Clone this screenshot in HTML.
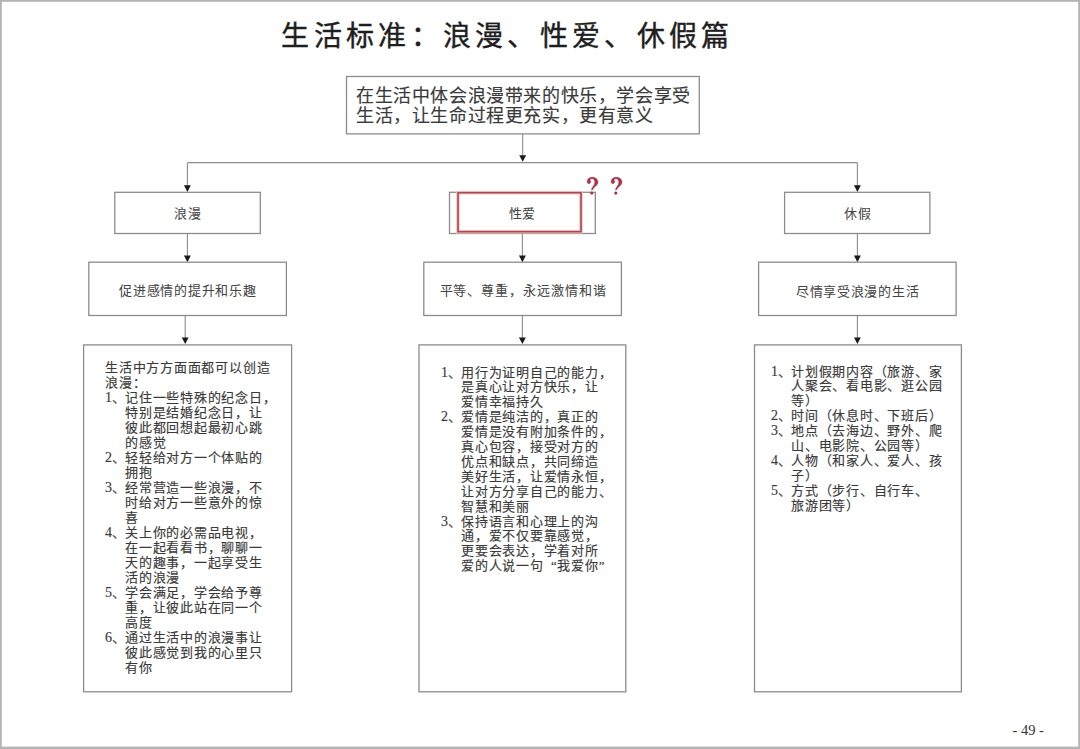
<!DOCTYPE html>
<html lang="zh-CN"><head><meta charset="utf-8">
<style>
html,body{margin:0;padding:0;background:#fff;}
body{width:1080px;height:749px;position:relative;overflow:hidden;font-family:"Liberation Serif",serif;color:#3a3a3a;}
.t{position:absolute;white-space:nowrap;line-height:1;}
.s{font-size:13px;letter-spacing:0.78px;-webkit-text-stroke:0.15px #3a3a3a;}
.qo{display:inline-block;width:13.78px;text-align:right;}
.qc{display:inline-block;width:13.78px;text-align:left;}
.n{font-size:14px;letter-spacing:0;}
.m{font-size:13px;color:#444;-webkit-text-stroke:0.05px #444;}
</style></head><body>
<svg width="1080" height="749" style="position:absolute;left:0;top:0"><rect x="0" y="0" width="1080" height="1.8" fill="#b4b4b4"/><rect x="0" y="0" width="1.8" height="749" fill="#b4b4b4"/><rect x="1078.2" y="0" width="1.8" height="749" fill="#b4b4b4"/><rect x="0" y="746.6" width="1080" height="2.4" fill="#b4b4b4"/><rect x="346.5" y="76.5" width="352.80" height="57.40" fill="none" stroke="#8c8c8c" stroke-width="1.3"/><line x1="522.7" y1="133.9" x2="522.7" y2="156" stroke="#8c8c8c" stroke-width="1.1"/><path d="M519.25,155.20 L526.15,155.20 L522.70,161.80 Z" fill="#1a1a1a"/><line x1="187.4" y1="162.7" x2="857.4" y2="162.7" stroke="#8c8c8c" stroke-width="1.3"/><line x1="187.4" y1="162.7" x2="187.4" y2="186" stroke="#8c8c8c" stroke-width="1.1"/><path d="M183.95,185.30 L190.85,185.30 L187.40,191.90 Z" fill="#1a1a1a"/><line x1="857.4" y1="162.7" x2="857.4" y2="186" stroke="#8c8c8c" stroke-width="1.1"/><path d="M853.95,185.30 L860.85,185.30 L857.40,191.90 Z" fill="#1a1a1a"/><rect x="114.8" y="192.3" width="145.50" height="41.20" fill="none" stroke="#8c8c8c" stroke-width="1.3"/><rect x="449.5" y="192.3" width="145.80" height="41.20" fill="none" stroke="#8c8c8c" stroke-width="1.3"/><rect x="784.6" y="192.3" width="145.30" height="41.20" fill="none" stroke="#8c8c8c" stroke-width="1.3"/><rect x="458" y="192.7" width="123" height="39" fill="none" stroke="#f4c4c4" stroke-width="3.6"/><rect x="458" y="192.7" width="123" height="39" fill="none" stroke="#ab4850" stroke-width="1.6"/><path transform="translate(586.2,177.2)" d="M1.2,5.6 C0.3,2.2 2.8,0 6,0 C9.6,0 11.8,2.2 11.8,5 C11.8,8.2 7.6,9.4 6.3,12.8 L5.3,12.8 C5.6,9.6 8.6,8.4 8.6,5 C8.6,2.8 7.5,1.6 6,1.6 C4.8,1.6 3.9,2.1 3.7,3 C4.6,3.4 4.8,4.6 4.2,5.6 C3.4,6.8 1.6,6.8 1.2,5.6 Z" fill="#a8344a" stroke="#a8344a" stroke-width="0.45"/><circle cx="591.80" cy="193.10" r="1.6" fill="#a8344a"/><path transform="translate(610.2,177.2)" d="M1.2,5.6 C0.3,2.2 2.8,0 6,0 C9.6,0 11.8,2.2 11.8,5 C11.8,8.2 7.6,9.4 6.3,12.8 L5.3,12.8 C5.6,9.6 8.6,8.4 8.6,5 C8.6,2.8 7.5,1.6 6,1.6 C4.8,1.6 3.9,2.1 3.7,3 C4.6,3.4 4.8,4.6 4.2,5.6 C3.4,6.8 1.6,6.8 1.2,5.6 Z" fill="#a8344a" stroke="#a8344a" stroke-width="0.45"/><circle cx="615.80" cy="193.10" r="1.6" fill="#a8344a"/><line x1="187.4" y1="233.5" x2="187.4" y2="256" stroke="#8c8c8c" stroke-width="1.1"/><path d="M183.95,255.60 L190.85,255.60 L187.40,262.20 Z" fill="#1a1a1a"/><line x1="522.4" y1="233.5" x2="522.4" y2="256" stroke="#8c8c8c" stroke-width="1.1"/><path d="M518.95,255.60 L525.85,255.60 L522.40,262.20 Z" fill="#1a1a1a"/><line x1="857.4" y1="233.5" x2="857.4" y2="256" stroke="#8c8c8c" stroke-width="1.1"/><path d="M853.95,255.60 L860.85,255.60 L857.40,262.20 Z" fill="#1a1a1a"/><rect x="88.8" y="262.2" width="197.60" height="53.30" fill="none" stroke="#8c8c8c" stroke-width="1.3"/><rect x="423.8" y="262.2" width="197.60" height="53.30" fill="none" stroke="#8c8c8c" stroke-width="1.3"/><rect x="758.6" y="262.2" width="197.50" height="53.30" fill="none" stroke="#8c8c8c" stroke-width="1.3"/><line x1="185.2" y1="315.5" x2="185.2" y2="338" stroke="#8c8c8c" stroke-width="1.1"/><path d="M181.75,337.40 L188.65,337.40 L185.20,344.00 Z" fill="#1a1a1a"/><line x1="522.4" y1="315.5" x2="522.4" y2="338" stroke="#8c8c8c" stroke-width="1.1"/><path d="M518.95,337.40 L525.85,337.40 L522.40,344.00 Z" fill="#1a1a1a"/><line x1="857.4" y1="315.5" x2="857.4" y2="338" stroke="#8c8c8c" stroke-width="1.1"/><path d="M853.95,337.40 L860.85,337.40 L857.40,344.00 Z" fill="#1a1a1a"/><rect x="83.6" y="344.9" width="208.00" height="346.90" fill="none" stroke="#8c8c8c" stroke-width="1.3"/><rect x="419.0" y="344.9" width="206.80" height="346.90" fill="none" stroke="#8c8c8c" stroke-width="1.3"/><rect x="754.5" y="344.9" width="206.90" height="346.90" fill="none" stroke="#8c8c8c" stroke-width="1.3"/></svg>
<div class="t" style="left:281.4px;top:23.3px;font-family:'Liberation Sans',sans-serif;font-size:28px;letter-spacing:4.3px;color:#1e1e1e;-webkit-text-stroke:0.4px #1e1e1e;">生活标准：浪漫、性爱、休假篇</div>
<div class="t" style="left:356px;top:87px;font-size:18px;letter-spacing:0.6px;-webkit-text-stroke:0.15px #3a3a3a;">在生活中体会浪漫带来的快乐，学会享受</div>
<div class="t" style="left:356px;top:107px;font-size:18px;letter-spacing:0.6px;-webkit-text-stroke:0.15px #3a3a3a;">生活，让生命过程更充实，更有意义</div>
<div class="t m" style="left:174px;top:206.5px;letter-spacing:0.5px">浪漫</div>
<div class="t m" style="left:508.5px;top:206.5px;letter-spacing:0.5px">性爱</div>
<div class="t m" style="left:843.5px;top:206.5px;letter-spacing:1px">休假</div>
<div class="t m" style="left:119.2px;top:284px;letter-spacing:0.75px">促进感情的提升和乐趣</div>
<div class="t m" style="left:439.5px;top:283.5px;letter-spacing:0.95px">平等、尊重，永远激情和谐</div>
<div class="t m" style="left:796px;top:284.5px;letter-spacing:0.7px">尽情享受浪漫的生活</div>
<div class="t s" style="left:105px;top:360.8px;">生活中方方面面都可以创造</div>
<div class="t s" style="left:105px;top:375.8px;">浪漫：</div>
<div class="t s n" style="left:105px;top:390.9px;">1</div><div class="t s" style="left:111.8px;top:390.9px;">、</div><div class="t s" style="left:125px;top:390.9px;">记住一些特殊的纪念日，</div>
<div class="t s" style="left:125px;top:405.9px;">特别是结婚纪念日，让</div>
<div class="t s" style="left:125px;top:420.9px;">彼此都回想起最初心跳</div>
<div class="t s" style="left:125px;top:435.9px;">的感觉</div>
<div class="t s n" style="left:105px;top:451.0px;">2</div><div class="t s" style="left:111.8px;top:451.0px;">、</div><div class="t s" style="left:125px;top:451.0px;">轻轻给对方一个体贴的</div>
<div class="t s" style="left:125px;top:466.0px;">拥抱</div>
<div class="t s n" style="left:105px;top:481.0px;">3</div><div class="t s" style="left:111.8px;top:481.0px;">、</div><div class="t s" style="left:125px;top:481.0px;">经常营造一些浪漫，不</div>
<div class="t s" style="left:125px;top:496.1px;">时给对方一些意外的惊</div>
<div class="t s" style="left:125px;top:511.1px;">喜</div>
<div class="t s n" style="left:105px;top:526.1px;">4</div><div class="t s" style="left:111.8px;top:526.1px;">、</div><div class="t s" style="left:125px;top:526.1px;">关上你的必需品电视，</div>
<div class="t s" style="left:125px;top:541.2px;">在一起看看书，聊聊一</div>
<div class="t s" style="left:125px;top:556.2px;">天的趣事，一起享受生</div>
<div class="t s" style="left:125px;top:571.2px;">活的浪漫</div>
<div class="t s n" style="left:105px;top:586.2px;">5</div><div class="t s" style="left:111.8px;top:586.2px;">、</div><div class="t s" style="left:125px;top:586.2px;">学会满足，学会给予尊</div>
<div class="t s" style="left:125px;top:601.3px;">重，让彼此站在同一个</div>
<div class="t s" style="left:125px;top:616.3px;">高度</div>
<div class="t s n" style="left:105px;top:631.3px;">6</div><div class="t s" style="left:111.8px;top:631.3px;">、</div><div class="t s" style="left:125px;top:631.3px;">通过生活中的浪漫事让</div>
<div class="t s" style="left:125px;top:646.4px;">彼此感觉到我的心里只</div>
<div class="t s" style="left:125px;top:661.4px;">有你</div>
<div class="t s n" style="left:441px;top:365.5px;">1</div><div class="t s" style="left:447.8px;top:365.5px;">、</div><div class="t s" style="left:461px;top:365.5px;">用行为证明自己的能力，</div>
<div class="t s" style="left:461px;top:380.4px;">是真心让对方快乐，让</div>
<div class="t s" style="left:461px;top:395.3px;">爱情幸福持久</div>
<div class="t s n" style="left:441px;top:410.2px;">2</div><div class="t s" style="left:447.8px;top:410.2px;">、</div><div class="t s" style="left:461px;top:410.2px;">爱情是纯洁的，真正的</div>
<div class="t s" style="left:461px;top:425.1px;">爱情是没有附加条件的，</div>
<div class="t s" style="left:461px;top:440.0px;">真心包容，接受对方的</div>
<div class="t s" style="left:461px;top:454.9px;">优点和缺点，共同缔造</div>
<div class="t s" style="left:461px;top:469.8px;">美好生活，让爱情永恒，</div>
<div class="t s" style="left:461px;top:484.7px;">让对方分享自己的能力、</div>
<div class="t s" style="left:461px;top:499.6px;">智慧和美丽</div>
<div class="t s n" style="left:441px;top:514.5px;">3</div><div class="t s" style="left:447.8px;top:514.5px;">、</div><div class="t s" style="left:461px;top:514.5px;">保持语言和心理上的沟</div>
<div class="t s" style="left:461px;top:529.4px;">通，爱不仅要靠感觉，</div>
<div class="t s" style="left:461px;top:544.3px;">更要会表达，学着对所</div>
<div class="t s" style="left:461px;top:559.2px;">爱的人说一句<span class="qo">“</span>我爱你<span class="qc">”</span></div>
<div class="t s n" style="left:771px;top:364.5px;">1</div><div class="t s" style="left:777.8px;top:364.5px;">、</div><div class="t s" style="left:791px;top:364.5px;">计划假期内容（旅游、家</div>
<div class="t s" style="left:791px;top:379.4px;">人聚会、看电影、逛公园</div>
<div class="t s" style="left:791px;top:394.4px;">等）</div>
<div class="t s n" style="left:771px;top:409.3px;">2</div><div class="t s" style="left:777.8px;top:409.3px;">、</div><div class="t s" style="left:791px;top:409.3px;">时间（休息时、下班后）</div>
<div class="t s n" style="left:771px;top:424.3px;">3</div><div class="t s" style="left:777.8px;top:424.3px;">、</div><div class="t s" style="left:791px;top:424.3px;">地点（去海边、野外、爬</div>
<div class="t s" style="left:791px;top:439.2px;">山、电影院、公园等）</div>
<div class="t s n" style="left:771px;top:454.1px;">4</div><div class="t s" style="left:777.8px;top:454.1px;">、</div><div class="t s" style="left:791px;top:454.1px;">人物（和家人、爱人、孩</div>
<div class="t s" style="left:791px;top:469.1px;">子）</div>
<div class="t s n" style="left:771px;top:484.0px;">5</div><div class="t s" style="left:777.8px;top:484.0px;">、</div><div class="t s" style="left:791px;top:484.0px;">方式（步行、自行车、</div>
<div class="t s" style="left:791px;top:499.0px;">旅游团等）</div>
<div class="t" style="left:1012.5px;top:723px;font-size:14.5px;color:#333;">- 49 -</div>
</body></html>
